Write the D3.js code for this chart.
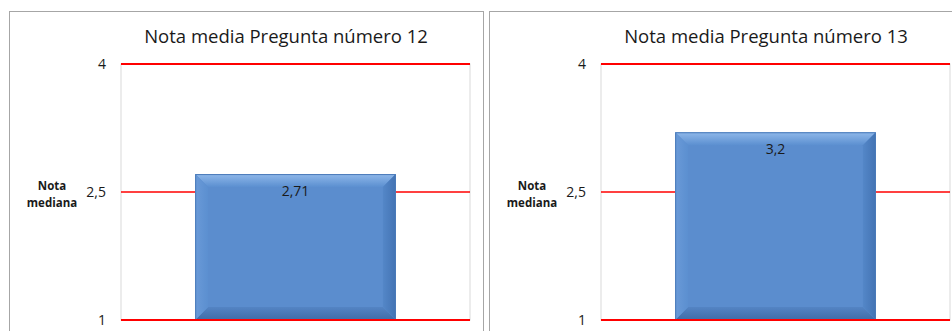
<!DOCTYPE html>
<html>
<head>
<meta charset="utf-8">
<script src="https://cdn.jsdelivr.net/npm/d3@7"></script>
<style>
  body { margin: 0; background: #fff; }
  svg { display: block; font-family: "Open Sans", "Noto Sans", sans-serif; }
</style>
</head>
<body>
<div id="container"></div>
<script>
// data
const titles = ["Nota media Pregunta número 12", "Nota media Pregunta número 13"];
const categories = ["Pregunta 12", "Pregunta 13"];
const values = [2.71, 3.2];
const valueLabels = ["2,71", "3,2"];
const tickValues = [1, 2.5, 4];
const tickLabels = ["1", "2,5", "4"];

const W = 952, H = 331;
const svg = d3.select("#container").append("svg")
    .attr("width", W)
    .attr("height", H);

// bevel gradients
const defs = svg.append("defs");
function lin(id, x1, y1, x2, y2, c1, c2) {
    const g = defs.append("linearGradient").attr("id", id)
        .attr("x1", x1).attr("y1", y1).attr("x2", x2).attr("y2", y2);
    g.append("stop").attr("offset", "0%").attr("stop-color", c1);
    g.append("stop").attr("offset", "100%").attr("stop-color", c2);
}
lin("bevTop", 0, 0, 0, 1, "#8fb8ea", "#5b8fd0");
lin("bevBot", 0, 0, 0, 1, "#5484c4", "#3f6ca8");
lin("bevLeft", 0, 0, 1, 0, "#6a9ad8", "#5b8fd0");
lin("bevRight", 0, 0, 1, 0, "#5487c8", "#4373b3");

const panelW = 480;
const plotLeft = 121, plotRight = 470;
const y = d3.scaleLinear().domain([1, 4]).range([320, 64]);
const bev = 13;

categories.forEach((cat, i) => {
    const g = svg.append("g").attr("transform", `translate(${i * panelW},0)`);

    // chart outer border
    g.append("rect")
        .attr("x", 9.5).attr("y", 11.5)
        .attr("width", 474).attr("height", 340)
        .attr("fill", "none")
        .attr("stroke", "#a6a6a6");

    // plot area
    g.append("rect")
        .attr("x", plotLeft).attr("y", y(4))
        .attr("width", plotRight - plotLeft).attr("height", y(1) - y(4))
        .attr("fill", "#fff")
        .attr("stroke", "#d9d9d9");

    // title
    g.append("text")
        .attr("x", 286).attr("y", 43)
        .attr("text-anchor", "middle")
        .attr("font-size", "18.5px")
        .attr("fill", "#1a1a1a")
        .text(titles[i]);

    // red gridlines
    g.selectAll("line.grid")
        .data(tickValues)
        .join("line")
        .attr("class", "grid")
        .attr("x1", plotLeft).attr("x2", plotRight)
        .attr("y1", d => y(d)).attr("y2", d => y(d))
        .attr("stroke", "#ff0000")
        .attr("stroke-width", d => d === 2.5 ? 1.3 : 1.8);

    // tick labels
    g.selectAll("text.tick")
        .data(tickValues)
        .join("text")
        .attr("class", "tick")
        .attr("x", 106)
        .attr("y", d => y(d) + 5)
        .attr("text-anchor", "end")
        .attr("font-size", "14px")
        .attr("fill", "#1a1a1a")
        .text((d, k) => tickLabels[k]);

    // axis title
    const at = g.append("text")
        .attr("x", 52)
        .attr("text-anchor", "middle")
        .attr("font-size", "11.5px")
        .attr("font-weight", "bold")
        .attr("fill", "#1a1a1a");
    at.append("tspan").attr("x", 52).attr("y", 190).text("Nota");
    at.append("tspan").attr("x", 52).attr("y", 207).text("mediana");

    // bar
    const x = d3.scaleBand()
        .domain([cat])
        .range([plotLeft, plotRight])
        .padding(0.27);
    const x0 = x(cat), x1 = x0 + x.bandwidth();
    const y0 = y(values[i]), y1 = y(1);

    const bar = g.append("g");
    bar.append("rect")
        .attr("x", x0).attr("y", y0)
        .attr("width", x1 - x0).attr("height", y1 - y0)
        .attr("fill", "#5b8dce");
    bar.append("polygon")
        .attr("points", [[x0, y0], [x1, y0], [x1 - bev, y0 + bev], [x0 + bev, y0 + bev]].join(" "))
        .attr("fill", "url(#bevTop)");
    bar.append("polygon")
        .attr("points", [[x0, y1], [x1, y1], [x1 - bev, y1 - bev], [x0 + bev, y1 - bev]].join(" "))
        .attr("fill", "url(#bevBot)");
    bar.append("polygon")
        .attr("points", [[x0, y0], [x0 + bev, y0 + bev], [x0 + bev, y1 - bev], [x0, y1]].join(" "))
        .attr("fill", "url(#bevLeft)");
    bar.append("polygon")
        .attr("points", [[x1, y0], [x1 - bev, y0 + bev], [x1 - bev, y1 - bev], [x1, y1]].join(" "))
        .attr("fill", "url(#bevRight)");
    bar.append("rect")
        .attr("x", x0 + 0.5).attr("y", y0 + 0.5)
        .attr("width", x1 - x0 - 1).attr("height", y1 - y0 - 1)
        .attr("fill", "none")
        .attr("stroke", "#4a7ab8")
        .attr("stroke-width", 1);

    // bottom line over the bar
    g.append("line")
        .attr("x1", plotLeft).attr("x2", plotRight)
        .attr("y1", y(1)).attr("y2", y(1))
        .attr("stroke", "#ff0000")
        .attr("stroke-width", 1.8);

    // value label
    g.append("text")
        .attr("x", (x0 + x1) / 2)
        .attr("y", y0 + 22)
        .attr("text-anchor", "middle")
        .attr("font-size", "14px")
        .attr("fill", "#1a1a1a")
        .text(valueLabels[i]);
});
</script>
</body>
</html>
